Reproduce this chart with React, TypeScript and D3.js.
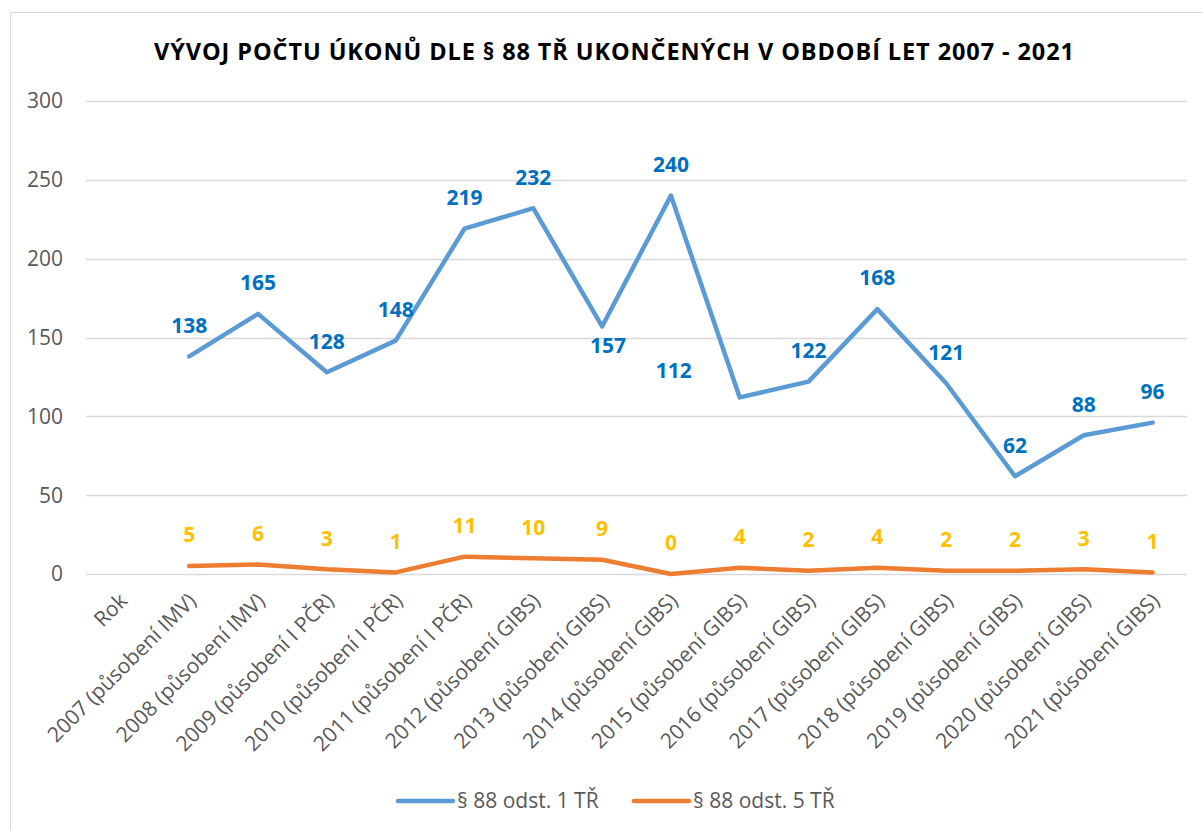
import React, { useRef, useEffect } from 'react';
import * as d3 from 'd3';

const categories = [
  'Rok',
  '2007 (působení IMV)',
  '2008 (působení IMV)',
  '2009 (působení I PČR)',
  '2010 (působení I PČR)',
  '2011 (působení I PČR)',
  '2012 (působení GIBS)',
  '2013 (působení GIBS)',
  '2014 (působení GIBS)',
  '2015 (působení GIBS)',
  '2016 (působení GIBS)',
  '2017 (působení GIBS)',
  '2018 (působení GIBS)',
  '2019 (působení GIBS)',
  '2020 (působení GIBS)',
  '2021 (působení GIBS)',
];

// null = no value for the "Rok" column
const odst1 = [null, 138, 165, 128, 148, 219, 232, 157, 240, 112, 122, 168, 121, 62, 88, 96];
const odst5 = [null, 5, 6, 3, 1, 11, 10, 9, 0, 4, 2, 4, 2, 2, 3, 1];

// where Excel put each blue data label
const odst1LabelPos = ['', 'above', 'above', 'above', 'above', 'above', 'above', 'below', 'above', 'left', 'above', 'above', 'above', 'above', 'above', 'above'];

const yTicks = [0, 50, 100, 150, 200, 250, 300];

const seriesNames = ['§ 88 odst. 1 TŘ', '§ 88 odst. 5 TŘ'];
const colors = ['#5B9BD5', '#ED7D31'];
const labelColors = ['#0070C0', '#FFC000'];

const title = 'VÝVOJ POČTU ÚKONŮ DLE § 88 TŘ UKONČENÝCH V OBDOBÍ LET 2007 - 2021';

const W = 1203;
const H = 830;
const FONT = "'Open Sans', sans-serif";
const FS = 21;

const App = () => {
  const svgRef = useRef(null);

  useEffect(() => {
    const svg = d3.select(svgRef.current);
    svg.selectAll('*').remove();

    const left = 86, right = 1187, top = 101, bottom = 574;

    const x = d3.scaleBand().domain(categories).range([left, right]);
    const y = d3.scaleLinear().domain([0, 300]).range([bottom, top]);
    const cx = (d) => x(d) + x.bandwidth() / 2;

    // chart border
    svg.append('rect')
      .attr('x', 10.5).attr('y', 12.5)
      .attr('width', W).attr('height', H)
      .attr('fill', 'white').attr('stroke', '#d9d9d9');

    // title
    svg.append('text')
      .attr('x', 154).attr('y', 60)
      .attr('textLength', 920)
      .attr('lengthAdjust', 'spacing')
      .attr('font-family', FONT).attr('font-weight', 700).attr('font-size', 23.5)
      .attr('fill', '#000')
      .text(title);

    // gridlines + y labels
    const yAxis = svg.append('g');
    yTicks.forEach((t) => {
      yAxis.append('line')
        .attr('x1', left).attr('x2', right)
        .attr('y1', Math.round(y(t)) + 0.5).attr('y2', Math.round(y(t)) + 0.5)
        .attr('stroke', '#d9d9d9').attr('stroke-width', 1.3);
      yAxis.append('text')
        .attr('x', 63).attr('y', y(t)).attr('dy', '0.35em')
        .attr('text-anchor', 'end')
        .attr('font-family', FONT).attr('font-size', FS).attr('fill', '#595959')
        .text(t);
    });

    // category labels
    svg.append('g').selectAll('text')
      .data(categories)
      .enter()
      .append('text')
      .attr('transform', (d) => `translate(${cx(d) + 3},${bottom + 23}) rotate(-45)`)
      .attr('text-anchor', 'end')
      .attr('dy', '0.35em')
      .attr('font-family', FONT).attr('font-size', FS).attr('fill', '#595959')
      .text((d) => d);

    // lines
    const series = [odst1, odst5];
    series.forEach((vals, si) => {
      const pts = categories.map((c, i) => ({ c, v: vals[i], i })).filter((p) => p.v !== null);
      const line = d3.line()
        .x((p) => cx(p.c))
        .y((p) => y(p.v));
      svg.append('path')
        .datum(pts)
        .attr('d', line)
        .attr('fill', 'none')
        .attr('stroke', colors[si])
        .attr('stroke-width', 4.5)
        .attr('stroke-linejoin', 'round')
        .attr('stroke-linecap', 'round');

      svg.append('g').selectAll('text')
        .data(pts)
        .enter()
        .append('text')
        .attr('x', (p) => {
          const pos = si === 0 ? odst1LabelPos[p.i] : 'above';
          if (pos === 'left') return cx(p.c) - 66;
          if (pos === 'below') return cx(p.c) + 6;
          return cx(p.c);
        })
        .attr('y', (p) => {
          const pos = si === 0 ? odst1LabelPos[p.i] : 'above';
          if (pos === 'below') return y(p.v) + 19;
          if (pos === 'left') return y(p.v) - 27;
          return y(p.v) - 31;
        })
        .attr('dy', '0.35em')
        .attr('text-anchor', 'middle')
        .attr('font-family', FONT).attr('font-weight', 700).attr('font-size', FS)
        .attr('fill', labelColors[si])
        .text((p) => p.v);
    });

    // legend
    const legendX = [398, 634];
    const legend = svg.append('g');
    seriesNames.forEach((name, i) => {
      legend.append('line')
        .attr('x1', legendX[i]).attr('x2', legendX[i] + 55)
        .attr('y1', 801).attr('y2', 801)
        .attr('stroke', colors[i]).attr('stroke-width', 4.5)
        .attr('stroke-linecap', 'round');
      legend.append('text')
        .attr('x', legendX[i] + 59).attr('y', 801).attr('dy', '0.35em')
        .attr('font-family', FONT).attr('font-size', FS).attr('fill', '#595959')
        .text(name);
    });
  }, []);

  return (
    <svg
      ref={svgRef}
      width={W}
      height={H}
      style={{ position: 'absolute', left: 0, top: 0, background: 'white' }}
    />
  );
};

export default App;
